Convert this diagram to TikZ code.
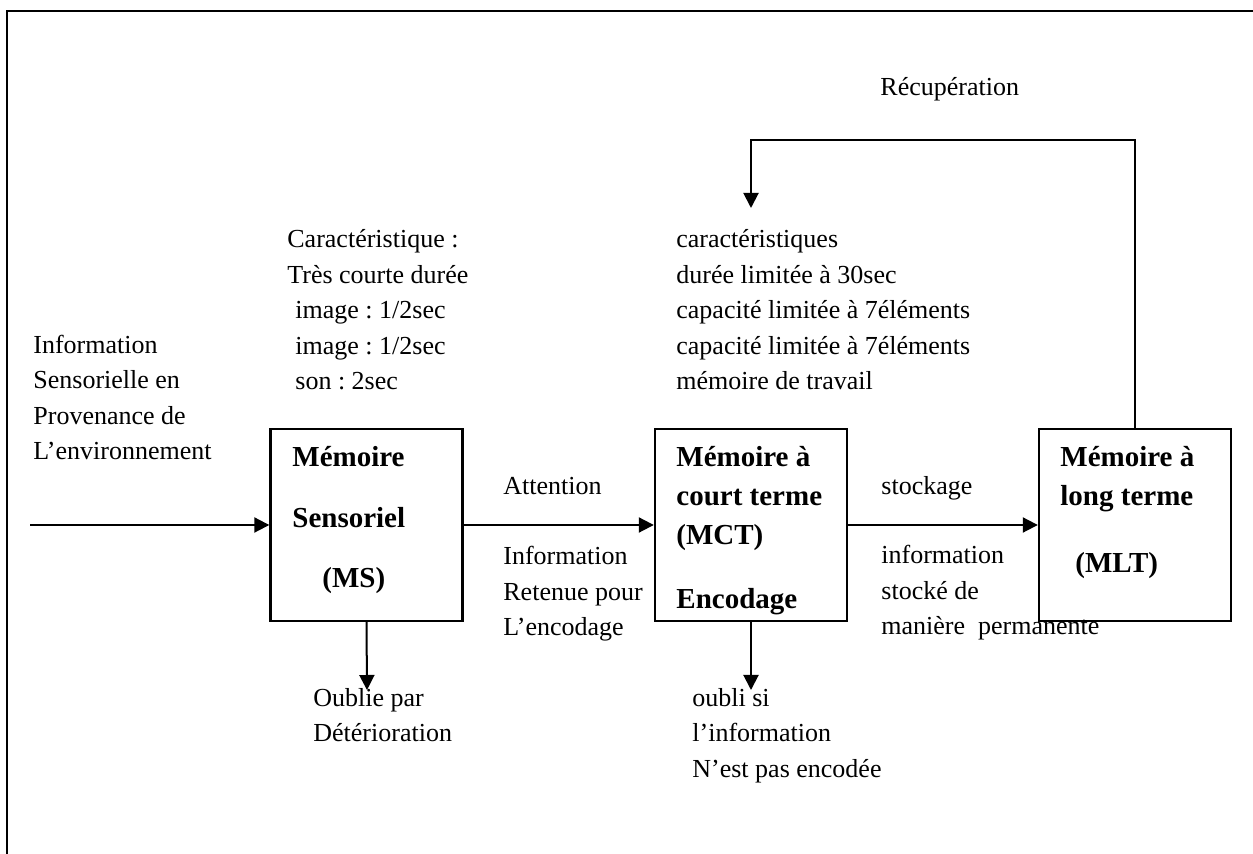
\documentclass[tikz,border=0pt]{standalone}
\usepackage{fontspec}
\setmainfont{Liberation Serif}
\usetikzlibrary{arrows.meta}

\begin{document}
\frenchspacing
\begin{tikzpicture}[x=0.5pt,y=-0.5pt,>={Triangle[length=7.5pt,width=7.5pt]}]
 \tikzstyle{membox} = [draw=black,line width=1.2pt,minimum width=96pt,minimum height=96pt,inner sep=0]
 % base anchor of a multi-line node = baseline of its last line
 \tikzstyle{txt} = [anchor=base west,inner sep=0,align=left,font=\fontsize{13}{17.75}\selectfont]
 \tikzstyle{btxt} = [anchor=base west,inner sep=0,align=left]
 \tikzstyle{flow} = [line width=1pt,->]
 \newcommand{\bfnt}[1]{\fontsize{14.5}{#1}\selectfont\bfseries}

  \useasboundingbox (0,0) rectangle (1253,854);

  % Frame (open on the right and bottom)
  \coordinate (fbl) at (6.5,854);
  \coordinate (ftl) at (6.5,11);
  \coordinate (ftr) at (1253,11);
  \draw[line width=1pt] (fbl) -- (ftl) -- (ftr);

  % Texts around the boxes
  \node[txt] (recup) at (880,96) {Récupération};
  \node[txt] (msdesc) at (287,390) {Caractéristique :\\Très courte durée\\\hspace*{4pt}image : 1/2sec\\\hspace*{4pt}image : 1/2sec\\\hspace*{4pt}son : 2sec};
  \node[txt] (mctdesc) at (676,390) {caractéristiques\\durée limitée à 30sec\\capacité limitée à 7éléments\\capacité limitée à 7éléments\\mémoire de travail};
  \node[txt] (input) at (33,460) {Information\\Sensorielle en\\Provenance de\\L’environnement};
  \node[txt] (attn) at (503,495) {Attention};
  \node[txt] (retenue) at (503,636) {Information\\Retenue pour\\L’encodage};
  \node[txt] (stock) at (881,495) {stockage};
  \node[txt] (stocke) at (881,635) {information\\stocké de\\manière\ \ permanente};
  \node[txt] (oubms) at (313,742) {Oublie par\\Détérioration};
  \node[txt] (oubmct) at (692,777) {oubli si\\l’information\\N’est pas encodée};

  % Box contents
  \node[btxt,font=\bfnt{30.25}] (msname) at (292,588) {Mémoire\\Sensoriel\\\hspace*{15pt}(MS)};
  \begin{scope}
   \clip (655,429) rectangle (847,621);
   \node[btxt,font=\bfnt{19.5}] (mctname) at (676,609) {Mémoire à\\court terme\\(MCT)\\[12.5pt]Encodage};
  \end{scope}
  \node[btxt,font=\bfnt{19.5}] (mltname) at (1060,573) {Mémoire à\\long terme\\[14pt]\hspace*{7.5pt}(MLT)};

  % Boxes
  \node[membox] (ms) at (366.5,525) {};
  \node[membox] (mct) at (751,525) {};
  \node[membox] (mlt) at (1135,525) {};

  % Arrows
  \coordinate (src) at (30,525);
  \coordinate (msdrop) at (367,690);
  \coordinate (mctdrop) at (751,690);
  \coordinate (rtip) at (751,208);
  \draw[flow] (src) -- (ms);
  \draw[flow] (ms) -- (mct);
  \draw[flow] (mct) -- (mlt);
  \draw[flow] (ms.south) -- (msdrop);
  \draw[flow] (mct.south) -- (mctdrop);
  \draw[flow] (mlt.north) -- ++(0,-288) -| (rtip);

\end{tikzpicture}
\end{document}
